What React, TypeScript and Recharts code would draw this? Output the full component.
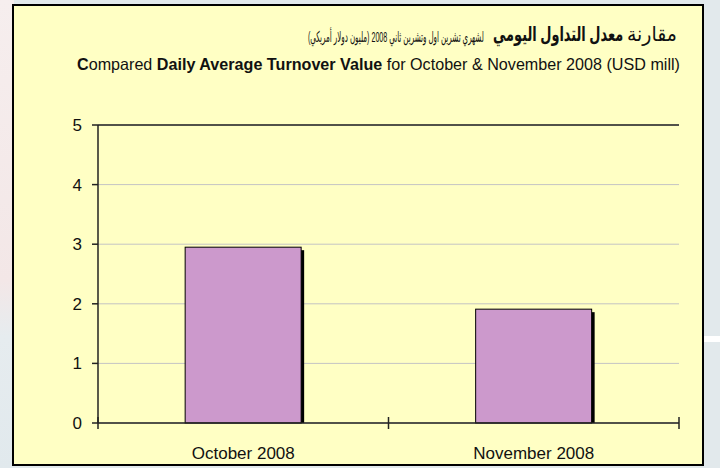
import React, { useLayoutEffect, useRef, useState } from 'react';
import { BarChart, Bar, XAxis, YAxis, CartesianGrid, ReferenceLine } from 'recharts';

const categories = ['October 2008', 'November 2008'];
const turnover = [2.95, 1.91];
const yTicks = [0, 1, 2, 3, 4, 5];

const data = categories.map((c, i) => ({ month: c, value: turnover[i] }));

const FONT = '"Liberation Sans", Arial, Helvetica, sans-serif';
const AR_FONT = '"Liberation Sans", "DejaVu Sans", sans-serif';

const ShadowBar = (props: any) => {
  const { x, y, width, height } = props;
  if (width == null || height == null) return null;
  return (
    <g>
      <rect x={x + 3} y={y + 3} width={width} height={Math.max(0, height - 3)} fill="#000" />
      <rect x={x} y={y} width={width} height={height} fill="#CC99CC" stroke="#000" strokeWidth={1} />
    </g>
  );
};

const XTick = (props: any) => {
  const { x, y, payload, index, visibleTicksCount } = props;
  const off = payload && payload.offset != null ? payload.offset : 145.25;
  const last = index === (visibleTicksCount ?? categories.length) - 1;
  return (
    <g>
      <line x1={x - off} x2={x - off} y1={y - 6} y2={y + 6} stroke="#222" strokeWidth={1.5} />
      {last && <line x1={x + off} x2={x + off} y1={y - 6} y2={y + 6} stroke="#222" strokeWidth={1.5} />}
      <text x={x} y={y + 36} textAnchor="middle" fontFamily={FONT} fontSize={17} fill="#111">
        {payload.value}
      </text>
    </g>
  );
};

// Text fitted horizontally into a target width, anchored at its right edge
const FitText = (props: { right: number; top: number; width: number; size: number; bold?: boolean; children: React.ReactNode }) => {
  const ref = useRef<HTMLSpanElement>(null);
  const [scale, setScale] = useState(1);
  useLayoutEffect(() => {
    if (ref.current) {
      const w = ref.current.getBoundingClientRect().width;
      if (w > 0) setScale(props.width / w);
    }
  }, [props.width]);
  return (
    <span
      ref={ref}
      dir="rtl"
      style={{
        position: 'absolute',
        right: 720 - props.right,
        top: props.top,
        whiteSpace: 'nowrap',
        fontFamily: AR_FONT,
        fontSize: props.size,
        fontWeight: props.bold ? 'bold' : 'normal',
        lineHeight: 1,
        color: '#111',
        direction: 'rtl',
        transform: `scaleX(${scale})`,
        transformOrigin: 'right center',
      }}
    >
      {props.children}
    </span>
  );
};

export default function App() {
  return (
    <div style={{ position: 'absolute', left: 0, top: 0, width: 720, height: 468, background: '#E2E9EC', overflow: 'hidden' }}>
      <div style={{ position: 'absolute', left: 0, top: 0, width: 14, height: 468, background: 'linear-gradient(to bottom, #F6EEEE 0%, #F3E7E7 60%, #E6ECEF 72%, #E1E9ED 100%)' }} />
      <div style={{ position: 'absolute', left: 700, top: 336, width: 20, height: 6, background: '#FFFFFF' }} />
      <div
        style={{
          position: 'absolute',
          left: 12,
          top: 4,
          width: 692,
          height: 462,
          boxSizing: 'border-box',
          border: '2px solid #000',
          background: '#FFFFC4',
        }}
      />
      <FitText right={677} top={24} width={50} size={20}>مقارنة</FitText>
      <FitText right={623} top={24} width={130} size={20} bold>معدل التداول اليومي</FitText>
      <FitText right={484} top={29} width={176} size={15}>لشهري تشرين اول وتشرين ثاني 2008 (مليون دولار أمريكي)</FitText>
      <svg style={{ position: 'absolute', left: 0, top: 0 }} width={720} height={468}>
        <text x={77} y={70} fontFamily={FONT} fontSize={16.5} fill="#111" textLength={603} lengthAdjust="spacingAndGlyphs">
          <tspan fontWeight="bold">C</tspan>
          <tspan>ompared </tspan>
          <tspan fontWeight="bold">Daily Average Turnover Value</tspan>
          <tspan> for October &amp; November 2008 (USD mill)</tspan>
        </text>
      </svg>
      <div style={{ position: 'absolute', left: 0, top: 0 }}>
        <BarChart
          width={720}
          height={468}
          data={data}
          margin={{ top: 125, right: 41, bottom: 0, left: 0 }}
          barCategoryGap="30%"
        >
          <CartesianGrid vertical={false} stroke="#C4C4C4" strokeWidth={1} />
          <XAxis
            dataKey="month"
            height={45}
            tickLine={false}
            tickSize={0}
            tickMargin={0}
            axisLine={{ stroke: '#222', strokeWidth: 1.5 }}
            tick={<XTick />}
            interval={0}
          />
          <YAxis
            width={98}
            domain={[0, 5]}
            ticks={yTicks}
            tickSize={6}
            tickMargin={10}
            axisLine={{ stroke: '#222', strokeWidth: 1.5 }}
            tickLine={{ stroke: '#222', strokeWidth: 1.5 }}
            tick={{ fontFamily: FONT, fontSize: 17, fill: '#111' }}
            interval={0}
          />
          <YAxis
            yAxisId="r"
            orientation="right"
            width={0}
            domain={[0, 5]}
            tick={false}
            tickLine={false}
            axisLine={{ stroke: '#222', strokeWidth: 1.5 }}
          />
          <ReferenceLine y={5} stroke="#222" strokeWidth={1.5} />
          <Bar dataKey="value" shape={<ShadowBar />} isAnimationActive={false} />
        </BarChart>
      </div>
    </div>
  );
}
